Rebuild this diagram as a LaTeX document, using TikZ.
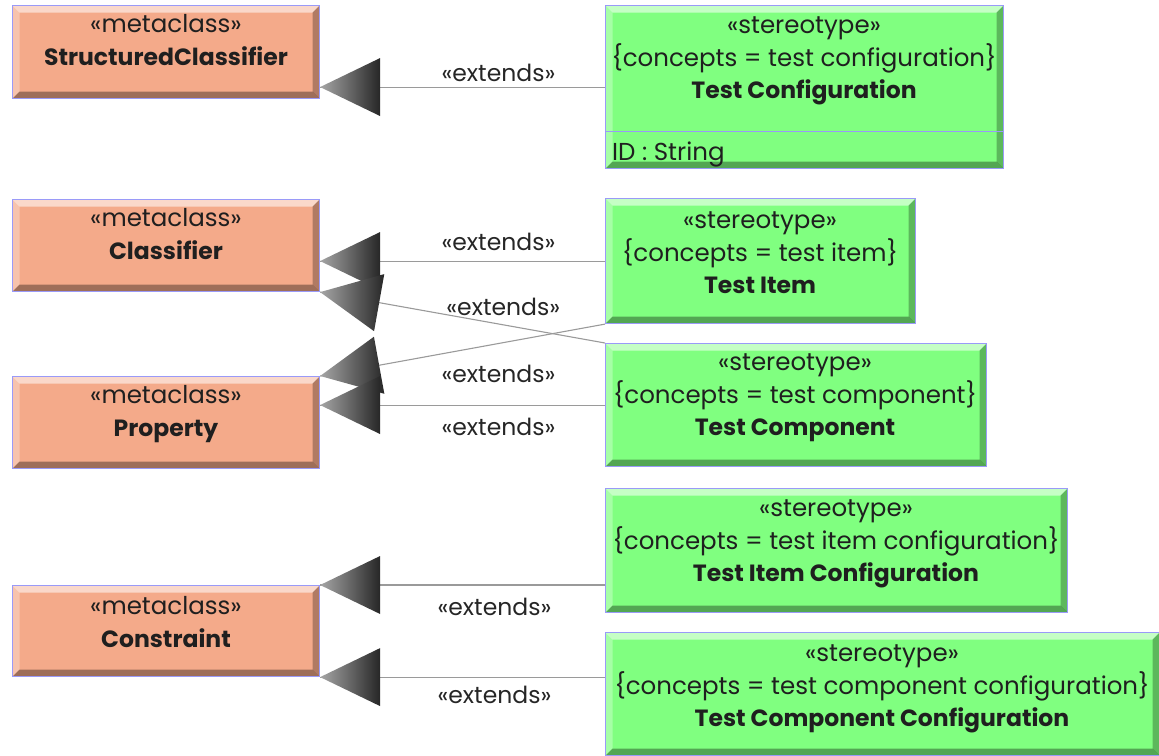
\documentclass[tikz,border=0pt]{standalone}
\usepackage{fontspec}
\setmainfont{Poppins}
\usetikzlibrary{calc}

\definecolor{metafill}{HTML}{F4AA8A}
\definecolor{stereofill}{HTML}{80FF80}
\definecolor{edgeblue}{HTML}{9A9AF8}
\definecolor{linegray}{HTML}{9A9A9A}
\newcommand\bevelw{7pt}
\newcommand\ttl[1]{{\fontsize{23.5}{32.5}\selectfont\bfseries #1}}

% generalisation connector: line from the stereotype, label, shaded triangular head at the metaclass
\newcommand\extarrow[4]{%
  \draw[conn] (#1) -- node[extlbl, pos=#3, yshift=#4] (x#1) {«extends»} (#2);
  \pgfmathanglebetweenpoints{\pgfpointanchor{#2}{center}}{\pgfpointanchor{#1}{center}}%
  \edef\tipangle{\pgfmathresult}%
  \shade[headshade, shift={(#2)}, rotate=\tipangle] (0,0) -- (60pt,29pt) -- (60pt,-29pt) -- cycle;
}

\tikzset{
  bevel/.style={path picture={
    \fill[white, fill opacity=.55] (path picture bounding box.north west) -- (path picture bounding box.north east)
      -- ([xshift=-\bevelw, yshift=-\bevelw]path picture bounding box.north east)
      -- ([xshift=\bevelw, yshift=-\bevelw]path picture bounding box.north west) -- cycle;
    \fill[white, fill opacity=.3] (path picture bounding box.north west) -- (path picture bounding box.south west)
      -- ([xshift=\bevelw, yshift=\bevelw]path picture bounding box.south west)
      -- ([xshift=\bevelw, yshift=-\bevelw]path picture bounding box.north west) -- cycle;
    \fill[black, fill opacity=.28] (path picture bounding box.north east) -- (path picture bounding box.south east)
      -- ([xshift=-\bevelw, yshift=\bevelw]path picture bounding box.south east)
      -- ([xshift=-\bevelw, yshift=-\bevelw]path picture bounding box.north east) -- cycle;
    \fill[black, fill opacity=.35] (path picture bounding box.south west) -- (path picture bounding box.south east)
      -- ([xshift=-\bevelw, yshift=\bevelw]path picture bounding box.south east)
      -- ([xshift=\bevelw, yshift=\bevelw]path picture bounding box.south west) -- cycle;
  }},
  box/.style={draw=edgeblue, line width=1.1pt, anchor=north west, inner sep=0pt, bevel},
  metabox/.style={box, fill=metafill},
  stereobox/.style={box, fill=stereofill},
  boxtext/.style={align=center, font=\fontsize{24.5}{32.5}\selectfont, inner sep=0pt, text=black!88},
  conn/.style={draw=linegray, line width=1.1pt},
  extlbl/.style={font=\fontsize{23.5}{25}\selectfont, inner sep=0pt, text=black!85},
  headshade/.style={left color=black!35, right color=black!85},
}

\begin{document}
\begin{tikzpicture}[x=1pt, y=-1pt]
\useasboundingbox (0,0) rectangle (1159,755);

% metaclasses
\node[metabox, minimum width=307pt, minimum height=93pt] (sc) at (12,5) {};
\node[metabox, minimum width=307pt, minimum height=92pt] (cl) at (12,199) {};
\node[metabox, minimum width=307pt, minimum height=92pt] (pr) at (12,376) {};
\node[metabox, minimum width=307pt, minimum height=91pt] (ct) at (12,585) {};

% stereotypes
\node[stereobox, minimum width=398pt, minimum height=163pt] (tc) at (605,5) {};
\node[stereobox, minimum width=310pt, minimum height=125pt] (ti) at (605,198) {};
\node[stereobox, minimum width=381pt, minimum height=123pt] (tco) at (605,343) {};
\node[stereobox, minimum width=462pt, minimum height=124pt] (tic) at (605,488) {};
\node[stereobox, minimum width=554pt, minimum height=123pt] (tcc) at (605,632) {};

\draw[edgeblue, line width=1pt] ([yshift=-126pt]tc.north west) -- ([yshift=-126pt]tc.north east);

% box texts
\node[boxtext] (scT) at (166,40) {«metaclass»\\\ttl{StructuredClassifier}};
\node[boxtext] (clT) at (166,234) {«metaclass»\\\ttl{Classifier}};
\node[boxtext] (prT) at (166,414) {«metaclass»\\\ttl{Property}};
\node[boxtext] (ctT) at (166,622) {«metaclass»\\\ttl{Constraint}};

\node[boxtext] (tcT) at (804,61) {«stereotype»\\\{concepts = test configuration\}\\\ttl{Test Configuration}};
\node[boxtext, anchor=west] (tcA) at (612,154) {ID : String};
\node[boxtext] (tiT) at (760,253) {«stereotype»\\\{concepts = test item\}\\\ttl{Test Item}};
\node[boxtext] (tcoT) at (795,398) {«stereotype»\\\{concepts = test component\}\\\ttl{Test Component}};
\node[boxtext] (ticT) at (836,544) {«stereotype»\\\{concepts = test item configuration\}\\\ttl{Test Item Configuration}};
\node[boxtext] (tccT) at (882,689) {«stereotype»\\\{concepts = test component configuration\}\\\ttl{Test Component Configuration}};

% connector end points
\coordinate (s1) at (tc.west);  \coordinate (t1) at (tc.west -| sc.east);
\coordinate (s2) at (ti.west);  \coordinate (t2) at (ti.west -| cl.east);
\coordinate (s3) at (tco.north west); \coordinate (t3) at (cl.south east);
\coordinate (s4) at (ti.south west);  \coordinate (t4) at (pr.north east);
\coordinate (s5) at (tco.west); \coordinate (t5) at (tco.west -| pr.east);
\coordinate (s6) at (ct.north east -| tic.west); \coordinate (t6) at (ct.north east);
\coordinate (s7) at (ct.south east -| tcc.west); \coordinate (t7) at (ct.south east);

\extarrow{s1}{t1}{0.374}{14pt}
\extarrow{s2}{t2}{0.374}{19pt}
\extarrow{s3}{t3}{0.357}{18pt}
\extarrow{s4}{t4}{0.374}{-30pt}
\extarrow{s5}{t5}{0.374}{-22pt}
\extarrow{s6}{t6}{0.388}{-22pt}
\extarrow{s7}{t7}{0.388}{-18pt}
\end{tikzpicture}
\end{document}
